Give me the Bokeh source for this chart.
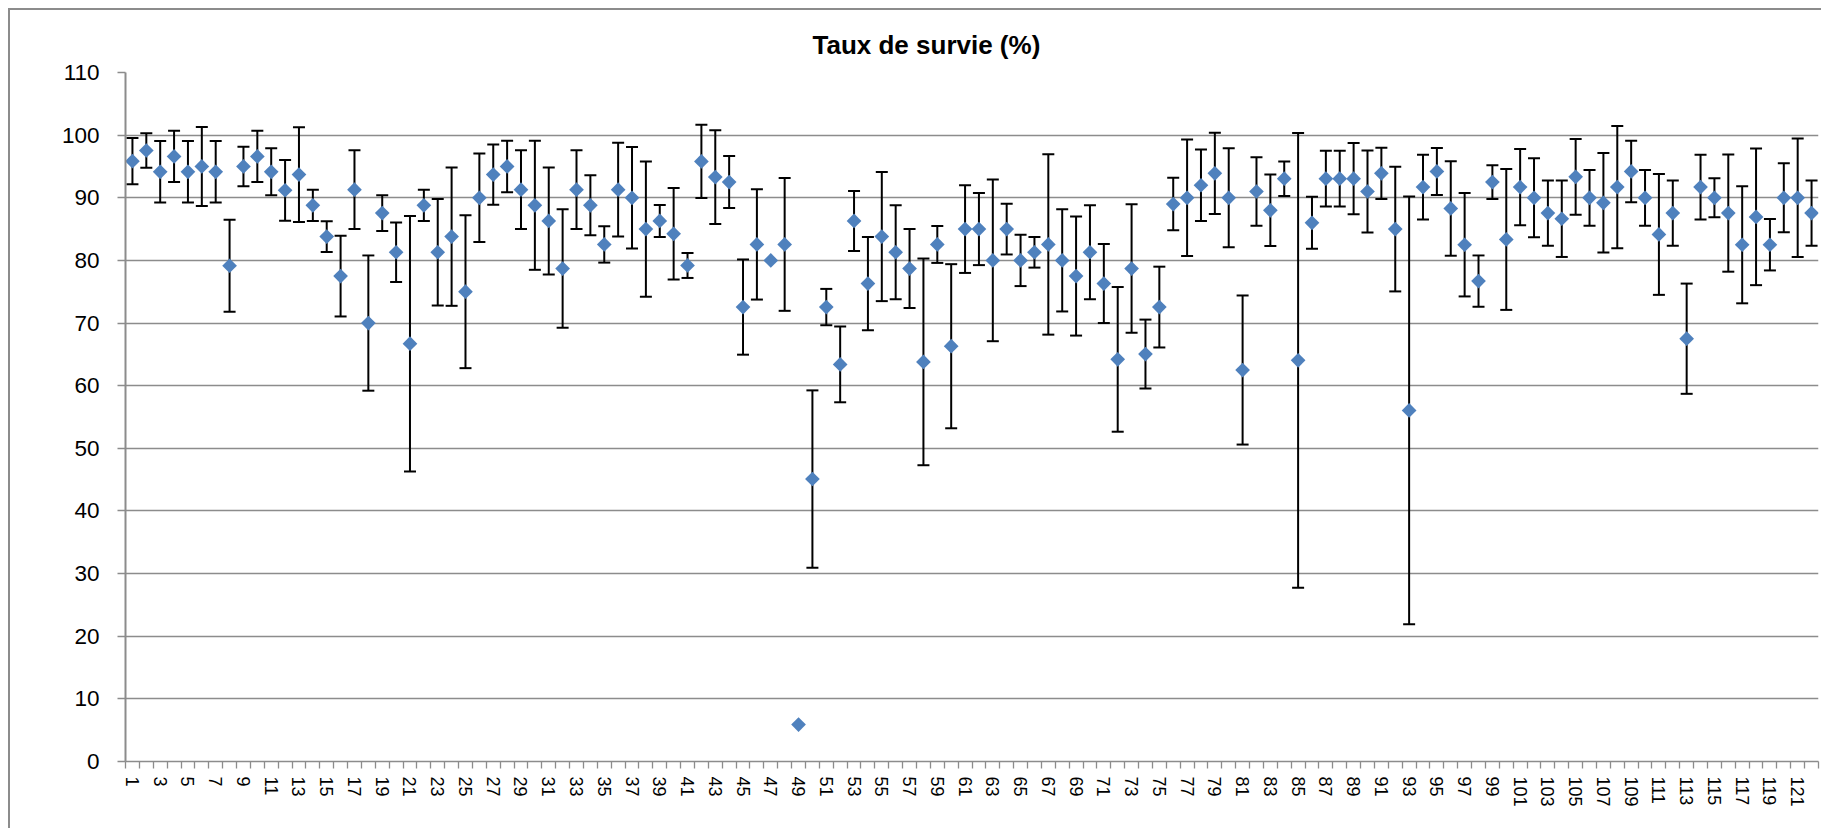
import numpy as np
from bokeh.plotting import figure
from bokeh.models import (ColumnDataSource, Whisker, TeeHead, FixedTicker,
                          Range1d)
from bokeh.embed import file_html
from bokeh.resources import INLINE

# ---------------- data ----------------
samples = list(range(1, 123))

survival = [
    95.85, 97.55, 94.15, 96.6, 94.15, 95.0, 94.15, 79.15, 95.0, 96.6,
    94.15, 91.2, 93.7, 88.8, 83.8, 77.5, 91.3, 70.0, 87.55, 81.3,
    66.7, 88.8, 81.3, 83.8, 75.0, 90.0, 93.7, 95.0, 91.3, 88.8,
    86.3, 78.7, 91.3, 88.8, 82.55, 91.3, 90.0, 85.0, 86.3, 84.25,
    79.2, 95.8, 93.3, 92.5, 72.55, 82.55, 80.0, 82.55, 5.9, 45.1,
    72.55, 63.4, 86.3, 76.3, 83.8, 81.3, 78.7, 63.8, 82.55, 66.3,
    85.0, 85.0, 80.0, 85.0, 80.0, 81.3, 82.55, 80.0, 77.5, 81.3,
    76.3, 64.2, 78.7, 65.05, 72.55, 89.0, 90.0, 92.0, 93.9, 90.0,
    62.5, 91.0, 88.0, 93.05, 64.05, 86.0, 93.05, 93.05, 93.05, 91.0,
    93.9, 85.0, 56.05, 91.7, 94.2, 88.3, 82.5, 76.7, 92.5, 83.35,
    91.7, 90.0, 87.55, 86.65, 93.35, 90.0, 89.2, 91.7, 94.2, 90.0,
    84.15, 87.55, 67.5, 91.7, 90.0, 87.55, 82.5, 86.95, 82.5, 90.0,
    90.0, 87.55,
]

errors = [
    3.7, 2.75, 4.9, 4.1, 4.9, 6.3, 4.9, 7.35, 3.15, 4.1,
    3.75, 4.85, 7.55, 2.5, 2.45, 6.45, 6.3, 10.8, 2.85, 4.75,
    20.4, 2.5, 8.5, 11.05, 12.2, 7.05, 4.8, 4.1, 6.3, 10.3,
    8.55, 9.45, 6.3, 4.8, 2.9, 7.5, 8.1, 10.8, 2.55, 7.3,
    2.0, 5.85, 7.5, 4.15, 7.6, 8.8, 0.0, 10.6, 0.0, 14.15,
    2.9, 6.05, 4.8, 7.45, 10.3, 7.5, 6.3, 16.5, 2.95, 13.1,
    7.0, 5.75, 12.9, 4.05, 4.1, 2.45, 14.4, 8.15, 9.5, 7.5,
    6.3, 11.55, 10.25, 5.5, 6.45, 4.2, 9.3, 5.7, 6.5, 7.9,
    11.9, 5.45, 5.7, 2.75, 36.3, 4.15, 4.45, 4.45, 5.7, 6.55,
    4.1, 9.95, 34.15, 5.15, 3.75, 7.55, 8.25, 4.1, 2.7, 11.25,
    6.1, 6.3, 5.2, 6.1, 6.05, 4.45, 7.95, 9.75, 4.9, 4.45,
    9.65, 5.2, 8.8, 5.15, 3.1, 9.35, 9.35, 10.9, 4.1, 5.5,
    9.45, 5.2,
]

tick_labels = [s for s in samples if s % 2 == 1]
y_ticks = [0, 10, 20, 30, 40, 50, 60, 70, 80, 90, 100, 110]
title_text = "Taux de survie (%)"

# ---------------- figure ----------------
GRID = "#8c8c8c"
FONT = "Liberation Sans"

p = figure(width=1813, height=820, output_backend="svg", toolbar_location=None,
           x_range=Range1d(0.5, len(samples) + 0.5), y_range=Range1d(0, 110),
           min_border_left=115, min_border_right=5, min_border_top=62,
           min_border_bottom=69, title=title_text)

p.styles = {"border-left": "2px solid #8c8c8c", "border-top": "2px solid #8c8c8c",
            "margin-left": "8px", "margin-top": "8px"}

p.outline_line_color = None
p.background_fill_color = "white"
p.border_fill_color = "white"

p.title.text_font = FONT
p.title.text_font_size = "26px"
p.title.text_font_style = "bold"
p.title.text_color = "black"
p.title.align = "left"
p.title.offset = 687
p.title.standoff = 26

# y axis
p.yaxis.ticker = FixedTicker(ticks=y_ticks)
p.yaxis.axis_line_color = GRID
p.yaxis.axis_line_width = 2
p.yaxis.major_tick_line_color = GRID
p.yaxis.major_tick_line_width = 1.3
p.yaxis.major_tick_out = 8
p.yaxis.major_tick_in = 0
p.yaxis.minor_tick_line_color = None
p.yaxis.major_label_text_font = FONT
p.yaxis.major_label_text_font_size = "22.5px"
p.yaxis.major_label_text_color = "black"
p.yaxis.major_label_standoff = 18

# x axis
boundaries = [s - 0.5 for s in samples] + [samples[-1] + 0.5]
p.xaxis.ticker = FixedTicker(ticks=tick_labels, minor_ticks=boundaries)
p.xaxis.axis_line_color = GRID
p.xaxis.axis_line_width = 1.5
p.xaxis.major_tick_line_color = None
p.xaxis.major_tick_out = 7
p.xaxis.major_tick_in = 0
p.xaxis.minor_tick_line_color = GRID
p.xaxis.minor_tick_line_width = 1.3
p.xaxis.minor_tick_out = 7
p.xaxis.minor_tick_in = 0
p.xaxis.major_label_orientation = "vertical"
p.xaxis.major_label_text_font = FONT
p.xaxis.major_label_text_font_size = "18px"
p.xaxis.major_label_text_color = "black"
p.xaxis.major_label_standoff = 8

p.xgrid.grid_line_color = None
p.ygrid.ticker = FixedTicker(ticks=y_ticks)
p.ygrid.grid_line_color = GRID
p.ygrid.grid_line_width = 1.3

# error bars
ex, eu, el = [], [], []
for s, v, e in zip(samples, survival, errors):
    if e > 0:
        ex.append(s)
        eu.append(v + e)
        el.append(v - e)
err_src = ColumnDataSource(data=dict(x=ex, upper=eu, lower=el))
whisker = Whisker(base="x", upper="upper", lower="lower", source=err_src,
                  line_color="black", line_width=2, level="underlay",
                  upper_head=TeeHead(size=12, line_color="black", line_width=2),
                  lower_head=TeeHead(size=12, line_color="black", line_width=2))
p.add_layout(whisker)

# points
src = ColumnDataSource(data=dict(x=samples, y=survival))
p.scatter("x", "y", source=src, marker="square", angle=np.pi / 4, size=10.4,
          fill_color="#4F81BD", line_color=None)

open("out.html", "w").write(file_html(p, INLINE))
